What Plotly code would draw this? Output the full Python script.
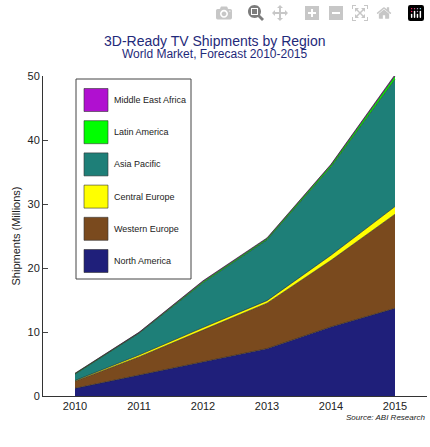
import plotly.graph_objects as go

years = [2010, 2011, 2012, 2013, 2014, 2015]
regions = ["North America", "Western Europe", "Central Europe", "Asia Pacific", "Latin America", "Middle East Africa"]
north_america = [1.2, 3.3, 5.4, 7.4, 10.8, 13.7]
western_europe = [1.1, 2.8, 4.9, 7.1, 10.4, 14.7]
central_europe = [0.1, 0.3, 0.4, 0.4, 0.8, 1.2]
asia_pacific = [1.0, 3.4, 7.0, 9.5, 13.8, 19.9]
latin_america = [0.1, 0.1, 0.2, 0.2, 0.3, 0.5]
middle_east_africa = [0.05, 0.05, 0.1, 0.1, 0.1, 0.2]
colors = ["#1f1f7a", "#7a4a1e", "#ffff00", "#1e7f78", "#00ff00", "#b010d0"]

series = [north_america, western_europe, central_europe, asia_pacific, latin_america, middle_east_africa]
FONT = "Liberation Sans, Arial, sans-serif"

fig = go.Figure()
for name, vals, c in zip(regions, series, colors):
    fig.add_trace(go.Scatter(x=years, y=vals, name=name, stackgroup="one", mode="lines",
                             line=dict(width=0.6, color="#222222"), fillcolor=c))

# hand-drawn legend box with large swatches
W, H = 430 - 43 - 3, 447 - 76 - 51
def px(x): return (x - 43) / W
def py(y): return 1 - (y - 76) / H
shapes = [dict(type="rect", xref="paper", yref="paper", x0=px(76), x1=px(191), y0=py(279), y1=py(79),
               line=dict(color="#444", width=1), fillcolor="white")]
annots = []
for i, (name, c) in enumerate(reversed(list(zip(regions, colors)))):
    yc = 100 + i * 32.2
    shapes.append(dict(type="rect", xref="paper", yref="paper", x0=px(84), x1=px(108),
                       y0=py(yc + 11.5), y1=py(yc - 11.5), line=dict(color="#333", width=0.6), fillcolor=c))
    annots.append(dict(x=px(112), y=py(yc), xref="paper", yref="paper", text=name, showarrow=False,
                       xanchor="left", yanchor="middle", font=dict(size=9, color="#222", family=FONT)))

annots.append(dict(x=(215 - 43) / W, y=1 + (76 - 31) / H, xref="paper", yref="paper",
                   text="3D-Ready TV Shipments by Region", showarrow=False,
                   font=dict(size=14, color="#1f2a7a", family=FONT)))
annots.append(dict(x=(215 - 43) / W, y=1 + (76 - 45) / H, xref="paper", yref="paper",
                   text="World Market, Forecast 2010-2015", showarrow=False,
                   font=dict(size=12, color="#1f2a7a", family=FONT)))
annots.append(dict(x=1, y=-(424 - 396) / H, xref="paper", yref="paper", xanchor="right",
                   text="<i>Source: ABI Research</i>", showarrow=False,
                   font=dict(size=8, color="#222", family=FONT)))

fig.update_layout(
    width=430, height=447, showlegend=False,
    margin=dict(l=43, r=3, t=76, b=51),
    paper_bgcolor="white", plot_bgcolor="white",
    font=dict(family=FONT, color="#222"),
    shapes=shapes, annotations=annots,
    xaxis=dict(range=[2009.5, 2015.5], tickvals=years, showgrid=False, zeroline=False,
               showline=True, linecolor="#333", ticks="", tickfont=dict(size=11)),
    yaxis=dict(range=[0, 50], dtick=10, showgrid=False, zeroline=False, showline=True,
               linecolor="#333", ticks="inside", ticklen=5, tickfont=dict(size=11),
               title=dict(text="Shipments (Millions)", font=dict(size=11), standoff=4)),
)
fig.write_html("out.html")

# drop the default page margin so the figure sits at the window's corner
with open("out.html", encoding="utf-8") as f:
    page = f.read()
page = page.replace("<head>", "<head><style>body{margin:0;overflow:hidden}</style>", 1)
with open("out.html", "w", encoding="utf-8") as f:
    f.write(page)
